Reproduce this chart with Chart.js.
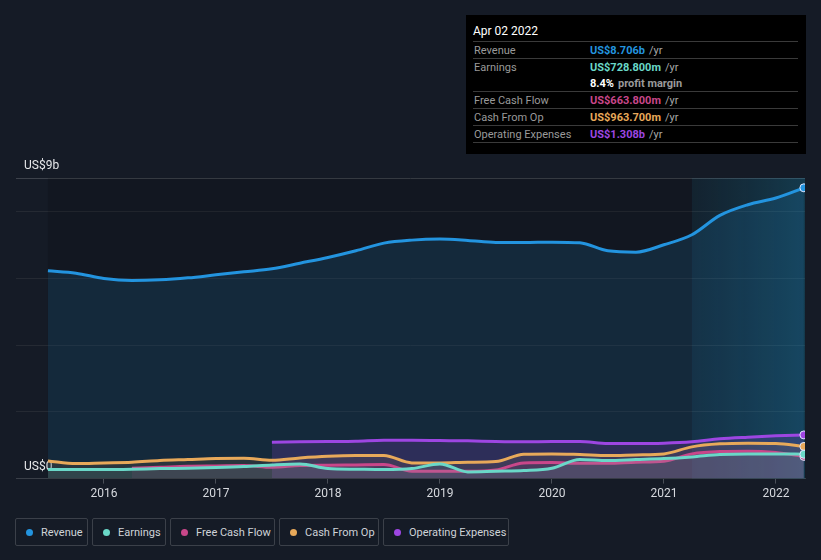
<!DOCTYPE html>
<html>
<head>
<meta charset="utf-8">
<script src="https://cdn.jsdelivr.net/npm/chart.js@4/dist/chart.umd.min.js"></script>
<style>
  body { margin: 0; background: #151b26; font-family: Roboto, "Noto Sans", sans-serif; }
  #wrap { position: relative; width: 821px; height: 560px; }
  #chart { position: absolute; left: 0; top: 0; }
  #tip {
    position: absolute; left: 466px; top: 15px; width: 340px; height: 139px;
    background: #000; box-sizing: border-box; padding: 0 8px 0 7px;
  }
  #tip .title { color: #fff; font-size: 12px; height: 26px; line-height: 32px; border-bottom: 1px solid #3a3a3a; }
  #tip .row { display: flex; height: 16px; line-height: 17px; font-size: 11px; border-bottom: 1px solid #3a3a3a; }
  #tip .row.nb { border-bottom: none; }
  #tip .lab { width: 116px; color: #9a9a9a; padding-left: 1px; }
  #tip .val { font-weight: bold; }
  #tip .unit { color: #a8a8a8; margin-left: 4px; }
  #legend { position: absolute; left: 15px; top: 518px; display: flex; }
  #legend .item {
    box-sizing: border-box; height: 28px; border: 1px solid #3b4049; border-radius: 2px;
    margin-right: 4px; display: flex; align-items: center; padding: 0 0 0 10px;
    color: #cfd3d8; font-size: 11px; white-space: nowrap;
  }
  #legend .dot { width: 7px; height: 7px; border-radius: 50%; margin-right: 8px; }
</style>
</head>
<body>
<div id="wrap">
  <canvas id="chart" width="821" height="506"></canvas>
  <div id="tip"></div>
  <div id="legend"></div>
</div>
<script>
'use strict';

// quarter positions (decimal years)
var quarters = [2015.5, 2015.75, 2016, 2016.25, 2016.5, 2016.75, 2017, 2017.25, 2017.5, 2017.75,
  2018, 2018.25, 2018.5, 2018.75, 2019, 2019.25, 2019.5, 2019.75, 2020, 2020.25,
  2020.5, 2020.75, 2021, 2021.25, 2021.5, 2021.75, 2022, 2022.25];
var yearTicks = [2016, 2017, 2018, 2019, 2020, 2021, 2022];

// values in US$ billions
var revenue = [6.22, 6.15, 5.99, 5.93, 5.95, 6.01, 6.10, 6.19, 6.28, 6.45,
  6.62, 6.82, 7.05, 7.14, 7.17, 7.13, 7.07, 7.07, 7.08, 7.06,
  6.82, 6.78, 7.00, 7.30, 7.88, 8.20, 8.40, 8.706];
var earnings = [0.27, 0.27, 0.27, 0.28, 0.30, 0.31, 0.33, 0.36, 0.41, 0.44,
  0.30, 0.28, 0.27, 0.30, 0.44, 0.20, 0.22, 0.24, 0.31, 0.57,
  0.54, 0.57, 0.60, 0.65, 0.72, 0.74, 0.74, 0.7288];
var freeCashFlow = [null, null, null, 0.31, 0.34, 0.37, 0.38, 0.39, 0.34, 0.39,
  0.40, 0.41, 0.42, 0.22, 0.22, 0.22, 0.26, 0.47, 0.48, 0.46,
  0.46, 0.49, 0.52, 0.74, 0.81, 0.82, 0.78, 0.6638];
var cashFromOp = [0.53, 0.45, 0.47, 0.49, 0.54, 0.57, 0.60, 0.61, 0.55, 0.62,
  0.67, 0.69, 0.69, 0.47, 0.47, 0.49, 0.51, 0.73, 0.74, 0.72,
  0.69, 0.71, 0.74, 0.95, 1.04, 1.06, 1.05, 0.9637];
var opExpenses = [null, null, null, null, null, null, null, null, 1.09, 1.10,
  1.11, 1.12, 1.15, 1.15, 1.14, 1.13, 1.11, 1.10, 1.11, 1.11,
  1.05, 1.05, 1.06, 1.10, 1.19, 1.24, 1.28, 1.308];

var seriesNames = ['Revenue', 'Earnings', 'Free Cash Flow', 'Cash From Op', 'Operating Expenses'];
var seriesColors = ['#2394df', '#6ad8c8', '#c9478a', '#e8a95a', '#9d46e2'];
var seriesFills = ['rgba(35,148,223,0.14)', 'rgba(106,216,200,0.10)', 'rgba(201,71,138,0.10)',
  'rgba(232,169,90,0.10)', 'rgba(157,70,226,0.18)'];
var seriesData = [revenue, earnings, freeCashFlow, cashFromOp, opExpenses];
var drawOrder = [5, 1, 2, 3, 4];
var legendWidths = [73, 74, 105, 100, 126];

var tipRows = [
  ['Revenue', 'US$8.706b', '#2394df'],
  ['Earnings', 'US$728.800m', '#6ad8c8'],
  ['', '8.4%', '#ffffff', 'profit margin'],
  ['Free Cash Flow', 'US$663.800m', '#c9478a'],
  ['Cash From Op', 'US$963.700m', '#e8a95a'],
  ['Operating Expenses', 'US$1.308b', '#9d46e2']
];

// tooltip box
var tip = document.getElementById('tip');
var html = '<div class="title">Apr 02 2022</div>';
tipRows.forEach(function (r, i) {
  var cls = (i === 1) ? 'row nb' : 'row';
  var unit = r[3] ? r[3] : '/yr';
  html += '<div class="' + cls + '"><span class="lab">' + r[0] + '</span>' +
    '<span class="val" style="color:' + r[2] + '">' + r[1] + '</span>' +
    '<span class="unit"' + (r[3] ? ' style="font-weight:bold;color:#9a9a9a"' : '') + '>' + unit + '</span></div>';
});
tip.innerHTML = html;

// legend
var legend = document.getElementById('legend');
seriesNames.forEach(function (name, i) {
  var item = document.createElement('div');
  item.className = 'item';
  item.style.width = legendWidths[i] + 'px';
  item.innerHTML = '<span class="dot" style="background:' + seriesColors[i] + '"></span>' + name;
  legend.appendChild(item);
});

var datasets = seriesData.map(function (vals, i) {
  var n = vals.length;
  return {
    label: seriesNames[i],
    data: vals.map(function (v, j) { return { x: quarters[j], y: v }; }),
    borderColor: seriesColors[i],
    backgroundColor: seriesFills[i],
    borderWidth: 3,
    fill: 'origin',
    cubicInterpolationMode: 'monotone',
    order: drawOrder[i],
    pointRadius: vals.map(function (v, j) { return j === n - 1 ? 4 : 0; }),
    pointBackgroundColor: seriesColors[i],
    pointBorderColor: '#dfe6ff',
    pointBorderWidth: 1
  };
});

// shaded "last 12 months" area
var highlight = {
  id: 'highlight',
  beforeDatasetsDraw: function (chart) {
    var ctx = chart.ctx;
    var area = chart.chartArea;
    var xs = chart.scales.x;
    var x0 = xs.getPixelForValue(2021.25);
    var g = ctx.createLinearGradient(x0, 0, area.right, 0);
    g.addColorStop(0, 'rgba(10,110,140,0.10)');
    g.addColorStop(1, 'rgba(20,140,180,0.28)');
    ctx.save();
    ctx.fillStyle = g;
    ctx.fillRect(x0, area.top, area.right - x0, area.bottom - area.top);
    ctx.fillStyle = 'rgba(0,0,0,0.12)';
    var xs0 = xs.getPixelForValue(quarters[0]);
    ctx.fillRect(xs0, area.top, x0 - xs0, area.bottom - area.top);
    ctx.restore();
  }
};

var ctx = document.getElementById('chart').getContext('2d');
var chart = new Chart(ctx, {
  type: 'line',
  data: { datasets: datasets },
  plugins: [highlight],
  options: {
    responsive: false,
    animation: false,
    layout: { padding: { top: 178, left: 16, right: 16, bottom: 2 } },
    plugins: { legend: { display: false }, tooltip: { enabled: false } },
    scales: {
      x: {
        type: 'linear',
        min: 2015.215,
        max: 2022.26,
        afterBuildTicks: function (axis) {
          axis.ticks = yearTicks.map(function (v) { return { value: v }; });
        },
        ticks: {
          color: '#d6d9de',
          font: { family: 'Roboto', size: 12 },
          padding: 3,
          maxRotation: 0,
          callback: function (v) { return String(v); }
        },
        grid: { drawOnChartArea: false, color: '#4a4f58', tickLength: 5 },
        border: { color: '#3a3f48' }
      },
      y: {
        min: 0,
        max: 9,
        afterBuildTicks: function (axis) {
          axis.ticks = [0, 2, 4, 6, 8, 9].map(function (v) { return { value: v }; });
        },
        afterFit: function (axis) { axis.width = 0; },
        ticks: {
          mirror: true,
          padding: 8,
          labelOffset: -12,
          color: '#e6e8ea',
          font: { family: 'Roboto', size: 12 },
          callback: function (v) {
            if (v === 9) return 'US$9b';
            if (v === 0) return 'US$0';
            return '';
          }
        },
        grid: {
          color: function (c) { return c.tick.value === 9 ? '#3d424b' : '#252a33'; },
          drawTicks: false
        },
        border: { display: false }
      }
    }
  }
});
</script>
</body>
</html>
